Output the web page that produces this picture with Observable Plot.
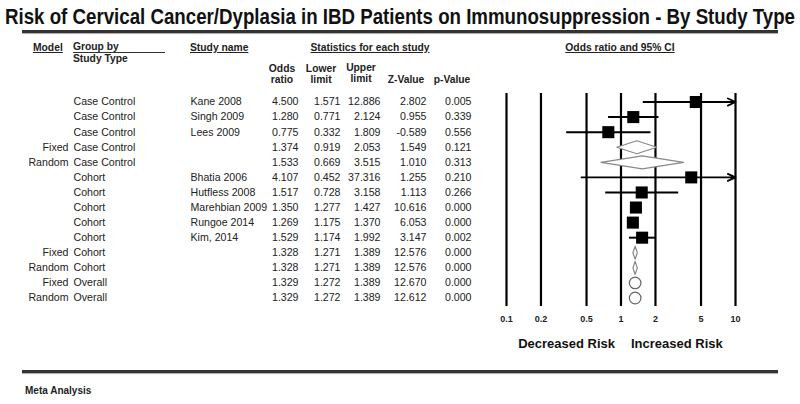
<!DOCTYPE html>
<html><head><meta charset="utf-8">
<script src="https://cdn.jsdelivr.net/npm/d3@7"></script>
<script src="https://cdn.jsdelivr.net/npm/@observablehq/plot@0.6"></script>
<style>
body{margin:0;background:#fff;font-family:"Liberation Sans",Arial,sans-serif;}
#wrap{position:relative;width:800px;height:404px;overflow:hidden;background:#fff;}
#title{position:absolute;left:5px;top:4px;font-weight:bold;font-size:22px;white-space:nowrap;transform-origin:0 0;color:#111;font-family:"Liberation Sans Narrow","Liberation Sans",Arial,sans-serif;}
.rule{position:absolute;left:22px;width:756px;height:3px;background:#333;box-shadow:0 1px 1px #aaa;}
.h{position:absolute;font-weight:bold;font-size:10.3px;color:#222;white-space:nowrap;line-height:11px;}
.u{text-decoration:underline;}
.c{transform:translateX(-50%);text-align:center;}
#chart{position:absolute;left:0;top:36px;}
#cap{position:absolute;left:25px;top:385px;font-weight:bold;font-size:10px;color:#222;}
</style></head>
<body><div id="wrap"></div>
<script>
// ---- data ----
const titleText = "Risk of Cervical Cancer/Dyplasia in IBD Patients on Immunosuppression - By Study Type";
const caption = "Meta Analysis";
const models  = ["","","","Fixed","Random","","","","","","Fixed","Random","Fixed","Random"];
const groups  = ["Case Control","Case Control","Case Control","Case Control","Case Control","Cohort","Cohort","Cohort","Cohort","Cohort","Cohort","Cohort","Overall","Overall"];
const studies = ["Kane 2008","Singh 2009","Lees 2009","","","Bhatia 2006","Hutfless 2008","Marehbian 2009","Rungoe 2014","Kim, 2014","","","",""];
const oddsRatio = [4.500,1.280,0.775,1.374,1.533,4.107,1.517,1.350,1.269,1.529,1.328,1.328,1.329,1.329];
const lowerLim  = [1.571,0.771,0.332,0.919,0.669,0.452,0.728,1.277,1.175,1.174,1.271,1.271,1.272,1.272];
const upperLim  = [12.886,2.124,1.809,2.053,3.515,37.316,3.158,1.427,1.370,1.992,1.389,1.389,1.389,1.389];
const zValue    = [2.802,0.955,-0.589,1.549,1.010,1.255,1.113,10.616,6.053,3.147,12.576,12.576,12.670,12.612];
const pValue    = [0.005,0.339,0.556,0.121,0.313,0.210,0.266,0.000,0.000,0.002,0.000,0.000,0.000,0.000];
const tickVals  = [0.1,0.2,0.5,1,2,5,10];
const riskLabels = ["Decreased Risk","Increased Risk"];
const topHeads = ["Model","Group by","Study Type","Study name","Statistics for each study","Odds ratio and 95% CI"];
const statHeads = [["Odds","ratio"],["Lower","limit"],["Upper","limit"],["","Z-Value"],["","p-Value"]];

// ---- build ----
const wrap = document.getElementById("wrap");
function add(html){ wrap.insertAdjacentHTML("beforeend", html); }
add(`<div id="title">${titleText}</div>`);
add(`<div class="rule" style="top:30px"></div>`);
add(`<div class="rule" style="top:370px"></div>`);
add(`<div id="cap">${caption}</div>`);
// headers
add(`<div class="h u" style="left:33px;top:42px">${topHeads[0]}</div>`);
add(`<div class="h" style="left:73px;top:42px;width:92px;border-bottom:1px solid #333;line-height:10px">${topHeads[1]}</div>`);
add(`<div class="h" style="left:73px;top:53px">${topHeads[2]}</div>`);
add(`<div class="h u" style="left:190px;top:42px">${topHeads[3]}</div>`);
add(`<div class="h u c" style="left:370px;top:42px">${topHeads[4]}</div>`);
add(`<div class="h u c" style="left:620px;top:42px">${topHeads[5]}</div>`);
const statX = [282,321,361,406,452];
statHeads.forEach((h,k)=>{
  add(`<div class="h c" style="left:${statX[k]}px;top:${k===2?62:63}px">${h[0]}<br>${h[1]}</div>`);
});

const rows = groups.map((g,i)=>({
  i, model: models[i], group: g, study: studies[i],
  or: oddsRatio[i], lo: lowerLim[i], hi: upperLim[i], z: zValue[i], p: pValue[i],
  kind: studies[i] ? "study" : (g === "Overall" ? "overall" : "subgroup")
}));
const XMIN = tickVals[0], XMAX = tickVals[tickVals.length-1];
const studyRows = rows.filter(d=>d.kind==="study");
const subRows = rows.filter(d=>d.kind==="subgroup");
const overallRows = rows.filter(d=>d.kind==="overall");
const H = 0.43;
const diamond = subRows.flatMap(d=>[
  {i:d.i, x:d.lo, y:d.i},{i:d.i, x:d.or, y:d.i-H},{i:d.i, x:d.hi, y:d.i},{i:d.i, x:d.or, y:d.i+H},{i:d.i, x:d.lo, y:d.i}
]);
const fmt = d3.format(".3f");
const fmtZ = d=> d<0 ? "-"+fmt(-d) : fmt(d);
const FL = 506;
const FONT = "Liberation Sans, Arial, sans-serif";
const txt = {fontSize:10.6, fill:"#222", fontFamily:FONT};

const chart = Plot.plot({
  width: 800, height: 330,
  marginLeft: FL, marginRight: 65, marginTop: 57, marginBottom: 60,
  x: {type:"log", domain:[XMIN, XMAX]},
  y: {domain:[-0.565, 13.565], reverse:true, axis:null},
  style: {background:"transparent", overflow:"visible", fontFamily:FONT},
  marks: [
    Plot.ruleX(tickVals, {stroke:"#000", strokeWidth:2.2}),
    Plot.axisX({ticks: tickVals, tickFormat: d=>String(d), tickSize:0, tickPadding:9, fontSize:9, fontWeight:"bold", fill:"#222", fontFamily:FONT}),
    Plot.link(studyRows.filter(d=>d.hi<=XMAX), {x1:d=>Math.max(d.lo,XMIN), x2:"hi", y1:"i", y2:"i", stroke:"#000", strokeWidth:2}),
    Plot.arrow(studyRows.filter(d=>d.hi>XMAX), {x1:d=>Math.max(d.lo,XMIN), x2:()=>XMAX, y1:"i", y2:"i", stroke:"#000", strokeWidth:1.8, headLength:7, headAngle:50}),
    Plot.line(diamond, {x:"x", y:"y", z:"i", fill:"#fff", stroke:"#888", strokeWidth:1.2, curve:"linear"}),
    Plot.dot(overallRows, {x:"or", y:"i", r:5.8, fill:"#fff", stroke:"#666", strokeWidth:1.2}),
    Plot.dot(studyRows, {x:"or", y:"i", symbol:"square", r:6.8, fill:"#000", stroke:"none"}),
    // table columns
    Plot.text(rows, {y:"i", text:"model", frameAnchor:"left", textAnchor:"end", dx:68-FL, ...txt}),
    Plot.text(rows, {y:"i", text:"group", frameAnchor:"left", textAnchor:"start", dx:73-FL, ...txt}),
    Plot.text(rows, {y:"i", text:"study", frameAnchor:"left", textAnchor:"start", dx:190-FL, ...txt}),
    Plot.text(rows, {y:"i", text:d=>fmt(d.or), frameAnchor:"left", textAnchor:"end", dx:298-FL, ...txt}),
    Plot.text(rows, {y:"i", text:d=>fmt(d.lo), frameAnchor:"left", textAnchor:"end", dx:340-FL, ...txt}),
    Plot.text(rows, {y:"i", text:d=>fmt(d.hi), frameAnchor:"left", textAnchor:"end", dx:380-FL, ...txt}),
    Plot.text(rows, {y:"i", text:d=>fmtZ(d.z), frameAnchor:"left", textAnchor:"end", dx:426-FL, ...txt}),
    Plot.text(rows, {y:"i", text:d=>fmt(d.p), frameAnchor:"left", textAnchor:"end", dx:471-FL, ...txt}),
    // risk labels around OR = 1
    Plot.text([riskLabels[0]], {x:()=>1, text:d=>d, frameAnchor:"bottom", textAnchor:"end", dx:-6, dy:41, fontSize:13, fontWeight:"bold", fill:"#111", fontFamily:FONT}),
    Plot.text([riskLabels[1]], {x:()=>1, text:d=>d, frameAnchor:"bottom", textAnchor:"start", dx:10, dy:41, fontSize:13, fontWeight:"bold", fill:"#111", fontFamily:FONT})
  ]
});
chart.id = "chart";
wrap.appendChild(chart);
// fit title width
const t = document.getElementById("title");
const w = t.getBoundingClientRect().width;
t.style.transform = `scaleX(${790 / w})`;
</script>
</body></html>
